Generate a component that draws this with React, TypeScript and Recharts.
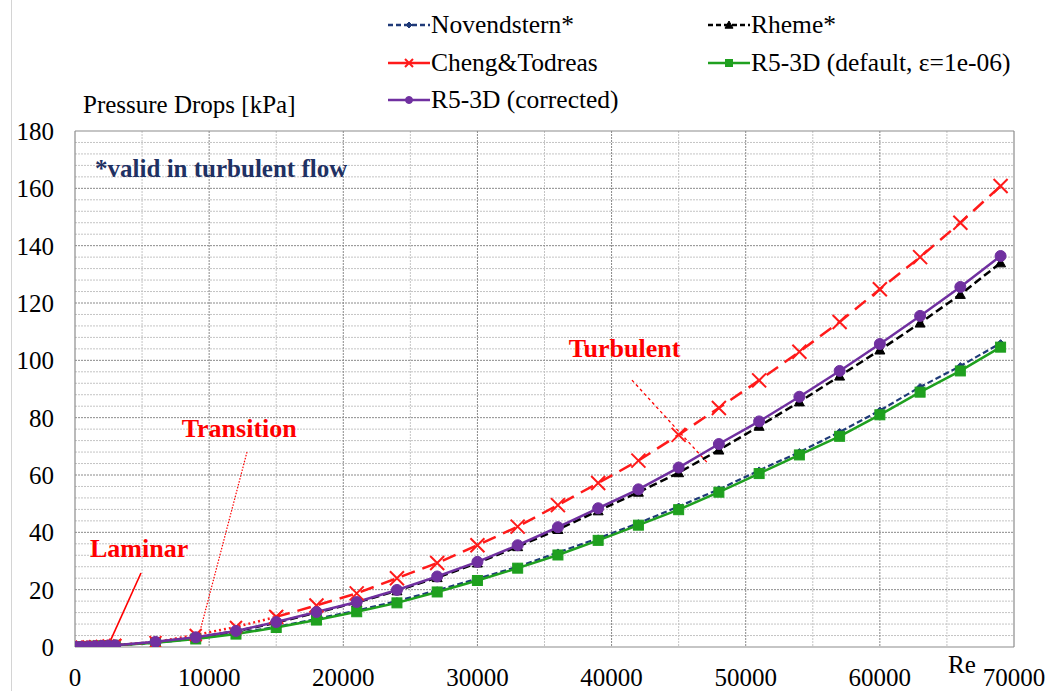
import React from 'react';
import {
  LineChart, Line, XAxis, YAxis, CartesianGrid, ReferenceLine, ReferenceDot, Legend, Label,
} from 'recharts';

const FONT = '"Liberation Serif", "Times New Roman", serif';

// Reynolds numbers (x values)
const reValues = [100, 500, 1000, 1500, 2000, 2500, 3000, 6000, 9000, 12000, 15000, 18000, 21000, 24000, 27000, 30000, 33000, 36000, 39000, 42000, 45000, 48000, 51000, 54000, 57000, 60000, 63000, 66000, 69000];

// Pressure drops [kPa]
const novendstern = [0.03, 0.1, 0.2, 0.3, 0.4, 0.5, 0.6, 1.5, 2.9, 4.8, 7.0, 9.8, 12.7, 16.0, 19.8, 23.8, 28.0, 33.0, 37.9, 43.2, 49.0, 55.0, 61.6, 68.0, 75.0, 82.5, 90.7, 98.0, 106.0];
const rheme = [0.03, 0.1, 0.2, 0.3, 0.4, 0.5, 0.6, 1.7, 3.3, 5.5, 8.5, 12.0, 15.5, 19.6, 24.2, 29.3, 35.0, 41.0, 47.5, 54.0, 60.8, 68.7, 77.0, 85.5, 94.5, 103.6, 113.0, 123.0, 134.0];
const chengTodreas = [0.03, 0.1, 0.2, 0.3, 0.4, 0.5, 0.7, 1.7, 4.2, 7.0, 10.5, 14.5, 18.7, 24.0, 29.3, 35.5, 42.0, 49.5, 57.2, 65.0, 74.0, 83.4, 93.0, 103.0, 113.4, 124.8, 136.0, 148.0, 160.8];
const r5Default = [0.03, 0.1, 0.2, 0.3, 0.4, 0.5, 0.6, 1.5, 2.8, 4.5, 6.8, 9.4, 12.3, 15.4, 19.2, 23.2, 27.5, 32.1, 37.2, 42.5, 47.9, 54.0, 60.5, 67.0, 73.5, 81.0, 88.9, 96.3, 104.6];
const r5Corrected = [0.03, 0.1, 0.2, 0.3, 0.4, 0.5, 0.6, 1.8, 3.4, 5.6, 8.7, 12.2, 15.7, 19.9, 24.6, 29.7, 35.5, 41.8, 48.4, 55.0, 62.6, 70.8, 78.7, 87.3, 96.3, 105.7, 115.5, 125.6, 136.4];

// Cheng & Todreas regime limits (Re)
const laminarEnd = 3000;
const turbulentStart = 15000;

// Axes
const xTicks = [0, 10000, 20000, 30000, 40000, 50000, 60000, 70000];
const yTicks = [0, 20, 40, 60, 80, 100, 120, 140, 160, 180];
const xMinorGrid = [5000, 15000, 25000, 35000, 45000, 55000, 65000];
const yMinorGrid = [4, 8, 12, 16, 24, 28, 32, 36, 44, 48, 52, 56, 64, 68, 72, 76, 84, 88, 92, 96, 104, 108, 112, 116, 124, 128, 132, 136, 144, 148, 152, 156, 164, 168, 172, 176];
const xMajorGrid = [10000, 20000, 30000, 40000, 50000, 60000];
const yMajorGrid = [20, 40, 60, 80, 100, 120, 140, 160];

// Annotations
const annotationTexts = [
  { text: 'Laminar', re: 1120, value: 31.4, color: '#FF0000' },
  { text: 'Transition', re: 7950, value: 73.3, color: '#FF0000' },
  { text: 'Turbulent', re: 36800, value: 101.2, color: '#FF0000' },
  { text: '*valid in turbulent flow', re: 1500, value: 163.9, color: '#1F3163' },
];
const annotationSegments = [
  { from: { x: 4920, y: 25.8 }, to: { x: 2600, y: 1.8 }, dash: undefined, width: 1.6 },
  { from: { x: 12820, y: 68 }, to: { x: 9250, y: 4.3 }, dash: '1.5 1.5', width: 1.2 },
  { from: { x: 41520, y: 93.1 }, to: { x: 47100, y: 64.5 }, dash: '3 3', width: 1.3 },
];

const COLORS = {
  nov: '#1F3A78',
  rheme: '#000000',
  cheng: '#FF1A1A',
  green: '#1FA01F',
  purple: '#7030A0',
};

const build = (vals: number[], lo = -Infinity, hi = Infinity) =>
  reValues.map((re, i) => ({ re, v: vals[i] })).filter((d) => d.re >= lo && d.re <= hi);

type Kind = 'diamond' | 'triangle' | 'x' | 'square' | 'circle';

function Marker({ kind, cx, cy, s, color }: { kind: Kind; cx: number; cy: number; s: number; color: string }) {
  if (cx == null || cy == null || isNaN(cx) || isNaN(cy)) return null;
  switch (kind) {
    case 'diamond':
      return <path d={`M${cx},${cy - s}L${cx + s},${cy}L${cx},${cy + s}L${cx - s},${cy}Z`} fill={color} stroke={color} strokeWidth={1} />;
    case 'triangle':
      return <path d={`M${cx},${cy - s}L${cx + s},${cy + s * 0.8}L${cx - s},${cy + s * 0.8}Z`} fill={color} stroke={color} strokeWidth={1} />;
    case 'x':
      return (
        <path d={`M${cx - s},${cy - s}L${cx + s},${cy + s}M${cx - s},${cy + s}L${cx + s},${cy - s}`} stroke={color} strokeWidth={2} fill="none" />
      );
    case 'square':
      return <rect x={cx - s} y={cy - s} width={2 * s} height={2 * s} fill={color} stroke={color} strokeWidth={1} />;
    default:
      return <circle cx={cx} cy={cy} r={s} fill={color} stroke={color} strokeWidth={1} />;
  }
}

const dotFn = (kind: Kind, s: number, color: string) => (p: any) => (
  <Marker key={`${kind}-${p.index}`} kind={kind} cx={p.cx} cy={p.cy} s={s} color={color} />
);

const legendItems: { name: string; color: string; dash?: string; kind: Kind; s: number; col: number; row: number }[] = [
  { name: 'Novendstern*', color: COLORS.nov, dash: '5 3', kind: 'diamond', s: 3, col: 0, row: 0 },
  { name: 'Rheme*', color: COLORS.rheme, dash: '5 3', kind: 'triangle', s: 4, col: 1, row: 0 },
  { name: 'Cheng&Todreas', color: COLORS.cheng, kind: 'x', s: 4, col: 0, row: 1 },
  { name: 'R5-3D (default, ε=1e-06)', color: COLORS.green, kind: 'square', s: 3.5, col: 1, row: 1 },
  { name: 'R5-3D (corrected)', color: COLORS.purple, kind: 'circle', s: 3.5, col: 0, row: 2 },
];
const legendColX = [388, 708];
const legendRowBaseline = [33, 71, 108];

function LegendContent() {
  return (
    <svg width={1060} height={120} style={{ display: 'block' }}>
      {legendItems.map((it) => {
        const x0 = legendColX[it.col];
        const base = legendRowBaseline[it.row];
        const cy = base - 8;
        return (
          <g key={it.name}>
            <line x1={x0} y1={cy} x2={x0 + 42} y2={cy} stroke={it.color} strokeWidth={2.5} strokeDasharray={it.dash} />
            <Marker kind={it.kind} cx={x0 + 21} cy={cy} s={it.s} color={it.color} />
            <text x={x0 + 43} y={base} fontFamily={FONT} fontSize={25.5} fill="#000">{it.name}</text>
          </g>
        );
      })}
    </svg>
  );
}

const YLabel = (props: any) => {
  const vb = props.viewBox || {};
  return (
    <text x={(vb.x || 0) + 83} y={(vb.y || 0) - 18} fontFamily={FONT} fontSize={25} fill="#000">Pressure Drops [kPa]</text>
  );
};
const XLabel = (props: any) => {
  const vb = props.viewBox || {};
  return (
    <text x={(vb.x || 0) + (vb.width || 0) - 66} y={(vb.y || 0) + 26} fontFamily={FONT} fontSize={25} fill="#000">Re</text>
  );
};

export default function App() {
  const tickStyle = { fill: '#000', fontSize: 25, fontFamily: FONT };
  return (
    <div style={{ position: 'absolute', left: 0, top: 0, width: 1060, height: 691, background: '#fff' }}>
      <div style={{ position: 'absolute', left: 11, top: 0, width: 0, height: 691, borderLeft: '1px solid #d4d4d4' }} />
      <LineChart width={1060} height={691} margin={{ top: 131, right: 46, bottom: 0, left: 0 }}>
        <CartesianGrid horizontalValues={yMinorGrid} verticalValues={xMinorGrid} stroke="#c4c4c4" strokeDasharray="2 1" strokeWidth={1} />
        <CartesianGrid horizontalValues={yMajorGrid} verticalValues={xMajorGrid} stroke="#8a8a8a" strokeDasharray="2 1" strokeWidth={1} />
        <XAxis
          type="number"
          dataKey="re"
          domain={[0, 70000]}
          ticks={xTicks}
          interval={0}
          height={44}
          tickLine={false}
          tickSize={0}
          tickMargin={21}
          axisLine={{ stroke: '#8c8c8c', strokeWidth: 1.2 }}
          tick={tickStyle}
          allowDataOverflow
        >
          <Label content={XLabel} />
        </XAxis>
        <YAxis
          type="number"
          domain={[0, 180]}
          ticks={yTicks}
          interval={0}
          width={75}
          tickLine={false}
          tickSize={0}
          tickMargin={21}
          axisLine={{ stroke: '#8c8c8c', strokeWidth: 1.2 }}
          tick={tickStyle}
          allowDataOverflow
        >
          <Label content={YLabel} />
        </YAxis>
        <ReferenceLine y={180} stroke="#8c8c8c" strokeWidth={1.2} />
        <ReferenceLine x={70000} stroke="#8c8c8c" strokeWidth={1.2} />
        <Legend layout="horizontal" verticalAlign="middle" align="center" content={LegendContent} wrapperStyle={{ left: 0, top: 0, width: 1060, height: 120 }} />

        {annotationSegments.map((s, i) => (
          <ReferenceLine key={`seg${i}`} segment={[s.from, s.to]} stroke="#FF0000" strokeWidth={s.width} strokeDasharray={s.dash} />
        ))}

        <Line data={build(novendstern)} dataKey="v" name="Novendstern*" stroke={COLORS.nov} strokeWidth={2.2} strokeDasharray="6 3" dot={dotFn('diamond', 3.5, COLORS.nov)} isAnimationActive={false} legendType="none" />
        <Line data={build(rheme)} dataKey="v" name="Rheme*" stroke={COLORS.rheme} strokeWidth={2.5} strokeDasharray="8 4" dot={dotFn('triangle', 5, COLORS.rheme)} isAnimationActive={false} legendType="none" />
        <Line data={build(r5Default)} dataKey="v" name="R5-3D (default, ε=1e-06)" stroke={COLORS.green} strokeWidth={2.5} dot={dotFn('square', 5, COLORS.green)} isAnimationActive={false} legendType="none" />
        <Line data={build(chengTodreas, -Infinity, laminarEnd)} dataKey="v" name="Cheng&Todreas laminar" stroke={COLORS.cheng} strokeWidth={2.5} dot={dotFn('x', 6, COLORS.cheng)} isAnimationActive={false} legendType="none" />
        <Line data={build(chengTodreas, laminarEnd, turbulentStart)} dataKey="v" name="Cheng&Todreas transition" stroke={COLORS.cheng} strokeWidth={2.5} strokeDasharray="2 3" dot={dotFn('x', 6, COLORS.cheng)} isAnimationActive={false} legendType="none" />
        <Line data={build(chengTodreas, turbulentStart)} dataKey="v" name="Cheng&Todreas" stroke={COLORS.cheng} strokeWidth={2.5} strokeDasharray="14 8" dot={dotFn('x', 7, COLORS.cheng)} isAnimationActive={false} legendType="none" />
        <Line data={build(r5Corrected)} dataKey="v" name="R5-3D (corrected)" stroke={COLORS.purple} strokeWidth={2.5} dot={dotFn('circle', 5.5, COLORS.purple)} isAnimationActive={false} legendType="none" />

        {annotationTexts.map((a) => (
          <ReferenceDot
            key={a.text}
            x={a.re}
            y={a.value}
            r={0}
            shape={(p: any) => (
              <text x={p.cx} y={p.cy} fontFamily={FONT} fontWeight="bold" fontSize={a.text.startsWith('*') ? 25 : 26} fill={a.color}>{a.text}</text>
            )}
          />
        ))}
      </LineChart>
    </div>
  );
}
